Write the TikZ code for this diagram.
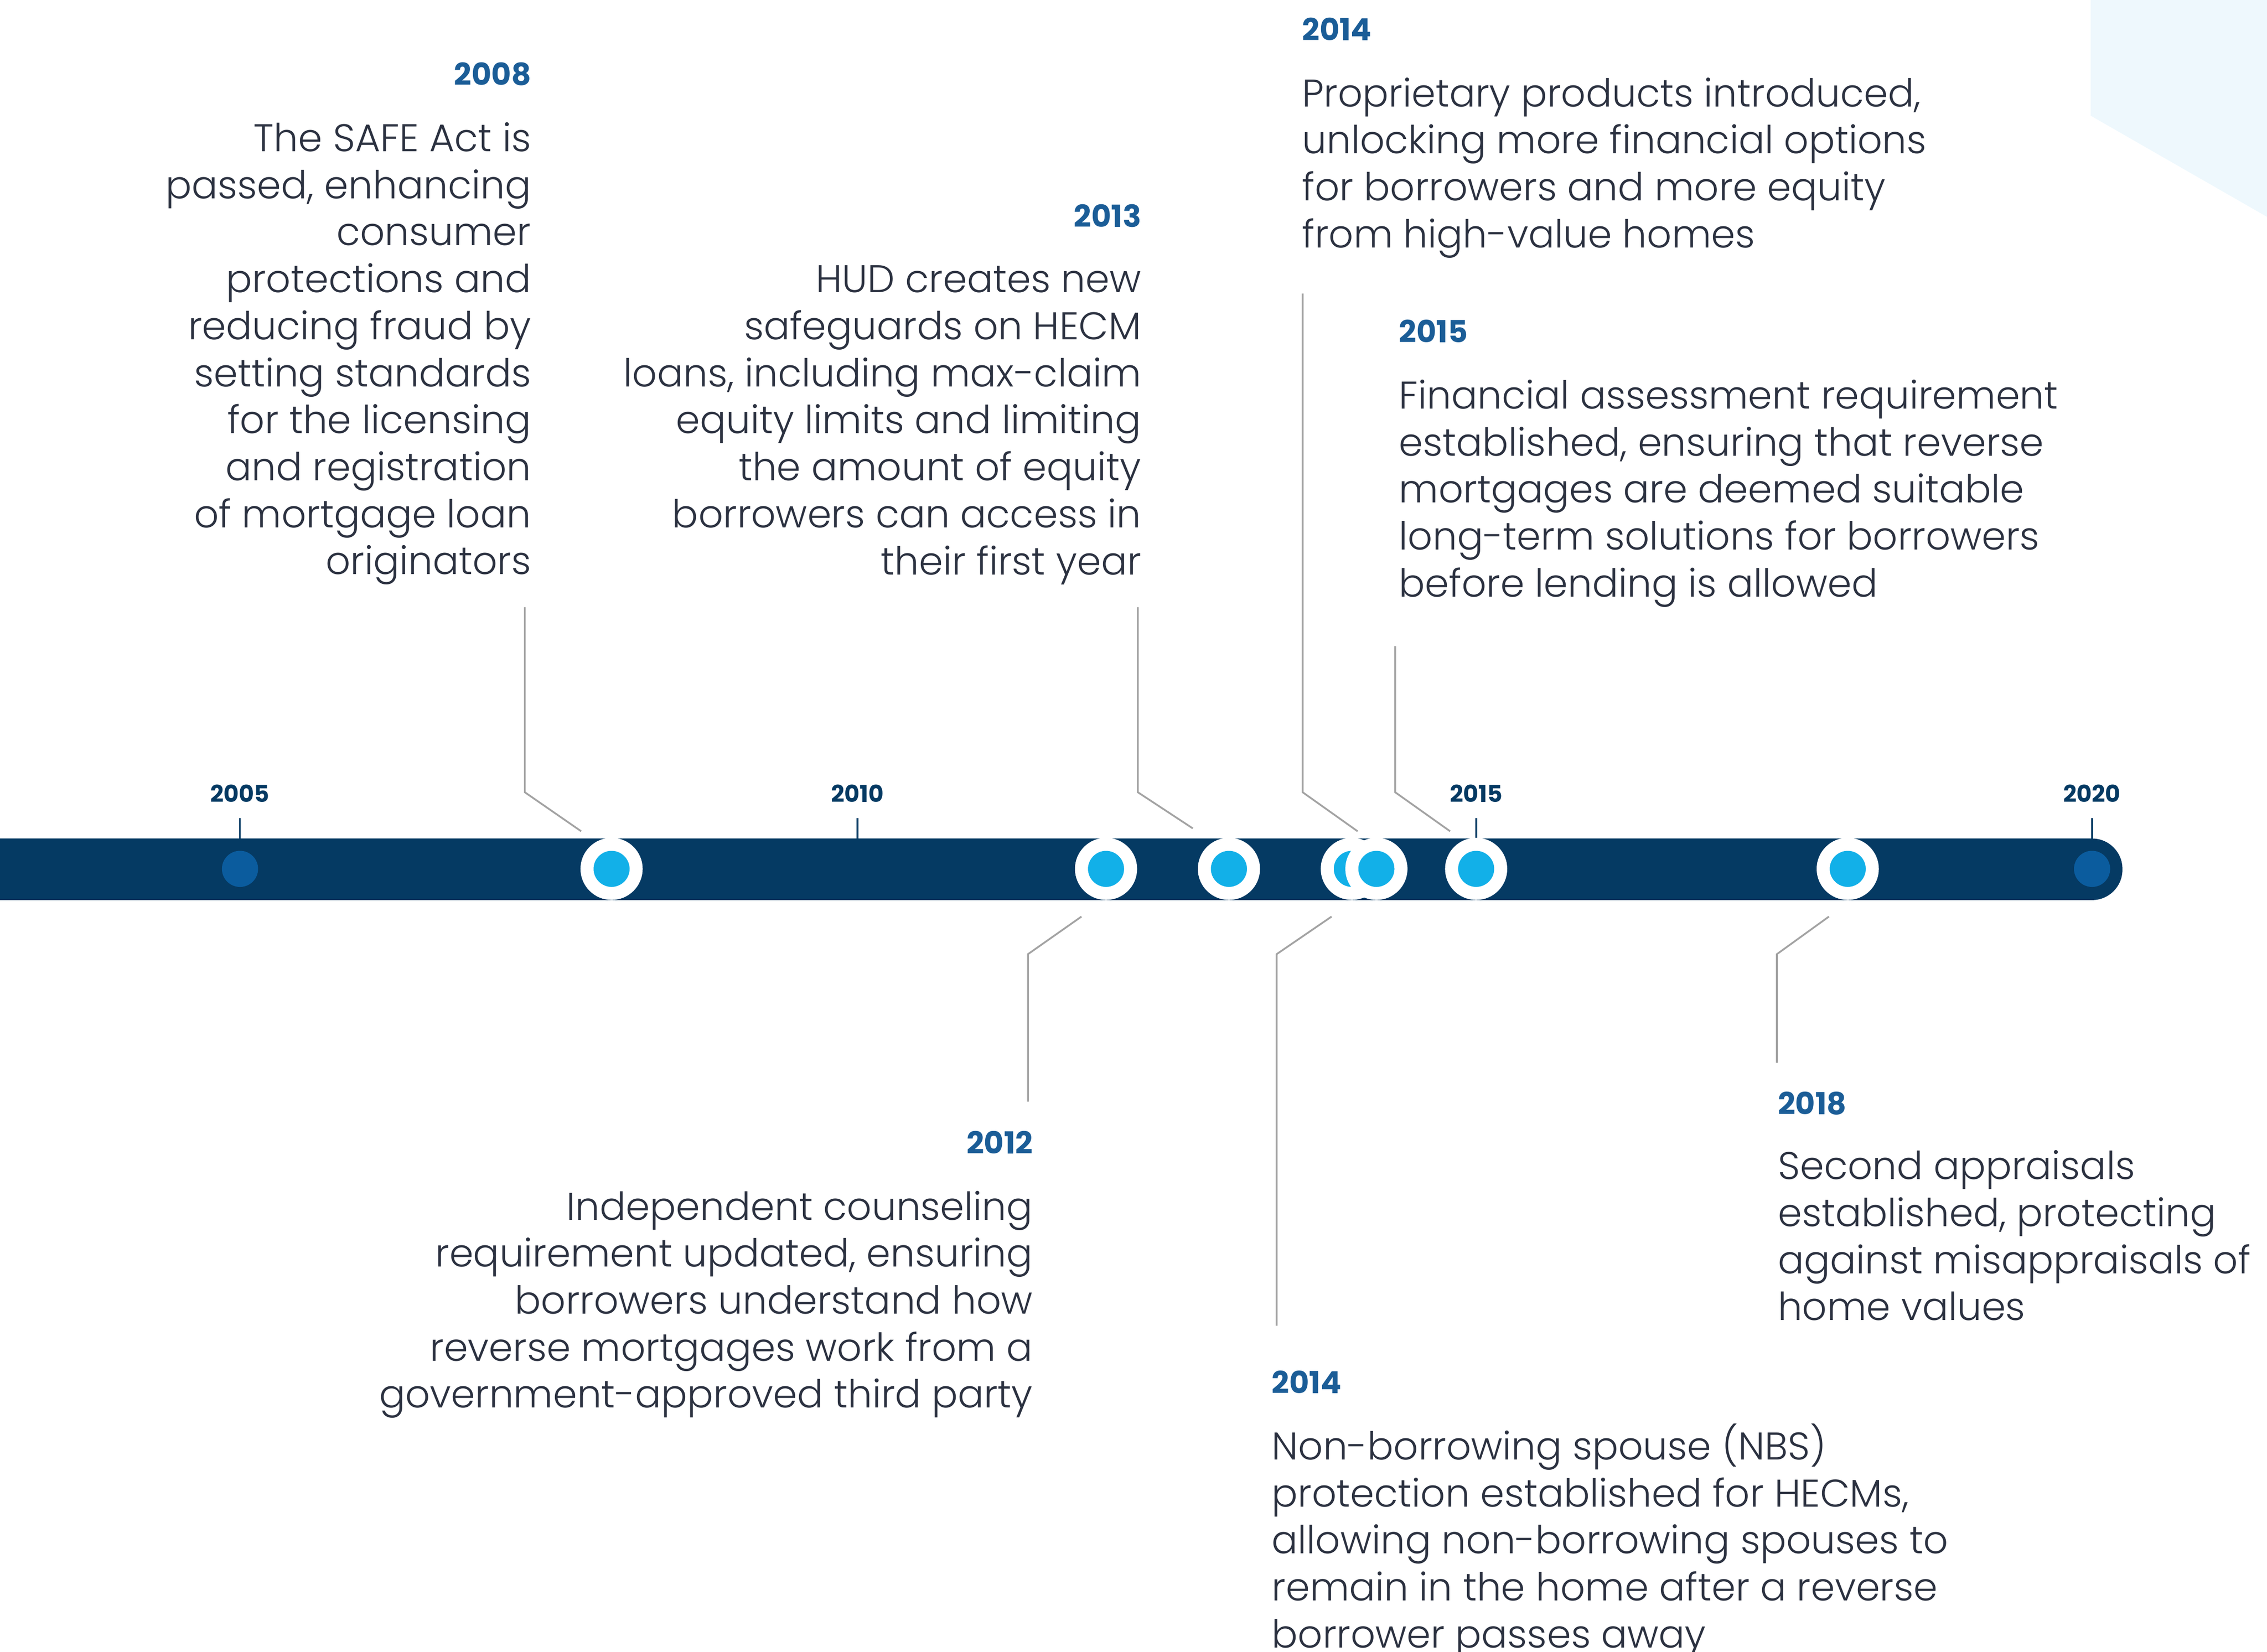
\documentclass[tikz,border=0pt]{standalone}
\usepackage{fontspec}
\setmainfont{Poppins}[UprightFont=* Light, BoldFont=* Bold]
\usepackage{tikz}
\usetikzlibrary{calc}
\definecolor{barnavy}{HTML}{053A63}
\definecolor{dotcyan}{HTML}{12B0E8}
\definecolor{endblue}{HTML}{0B5C9E}
\definecolor{yearblue}{HTML}{1B5D97}
\definecolor{bodyink}{HTML}{2B3140}
\definecolor{leadgray}{HTML}{A3A3A3}
\definecolor{paleblue}{HTML}{EEF8FD}
\tikzset{
  yearlbl/.style={font=\fontsize{6}{7}\selectfont\bfseries, text=yearblue, inner sep=0pt},
  desc/.style={font=\fontsize{7.6}{9.25}\selectfont, text=bodyink, inner sep=0pt},
  ticklbl/.style={font=\fontsize{4.6}{5}\selectfont\bfseries, text=barnavy, inner sep=0pt, anchor=base},
  tickmark/.style={draw=barnavy, line width=0.35pt},
  leader/.style={draw=leadgray, line width=0.35pt},
  event/.style={circle, fill=dotcyan, draw=white, line width=0.9mm, minimum size=3.4mm, inner sep=0pt},
  enddot/.style={circle, fill=endblue, minimum size=2.5mm, inner sep=0pt},
}

\begin{document}
\begin{tikzpicture}[x=0.1mm, y=-0.1mm]
    \useasboundingbox (0,0) rectangle (1568,1142.7);
    \fill[paleblue] (1446,0) -- (1568,0) -- (1568,150) -- (1446,80) -- cycle;

    % the bar
    \fill[barnavy] (0,580) [rounded corners=2.1mm] -- (1468,580) -- (1468,622.6) [sharp corners] -- (0,622.6) -- cycle;

    % year ticks
    \draw[tickmark] (166,566) -- (166,583);
    \draw[tickmark] (593,566) -- (593,583);
    \draw[tickmark] (1021,566) -- (1021,583);
    \draw[tickmark] (1447,566) -- (1447,583);
    \node[ticklbl] (y2005) at (166,555) {2005};
    \node[ticklbl] (y2010) at (593,555) {2010};
    \node[ticklbl] (y2015) at (1021,555) {2015};
    \node[ticklbl] (y2020) at (1447,555) {2020};

    % dots
    \node[enddot] (d2005) at (166,601) {};
    \node[enddot] (d2020) at (1447,601) {};
    \node[event] (d2008) at (423,601) {};
    \node[event] (d2012) at (765,601) {};
    \node[event] (d2013) at (850,601) {};
    \node[event] (d2014a) at (935,601) {};
    \node[event] (d2014b) at (952,601) {};
    \node[event] (d2015) at (1021,601) {};
    \node[event] (d2018) at (1278,601) {};

    % texts above
    \node[yearlbl, anchor=base east] (h2008) at (368,59) {2008};
    \node[desc, anchor=north east, align=right] (t2008) at (368,84) {The SAFE Act is\\passed, enhancing\\consumer\\protections and\\reducing fraud by\\setting standards\\for the licensing\\and registration\\of mortgage loan\\originators};

    \node[yearlbl, anchor=base east] (h2013) at (790,157) {2013};
    \node[desc, anchor=north east, align=right] (t2013) at (790,183) {HUD creates new\\safeguards on HECM\\loans, including max-claim\\equity limits and limiting\\the amount of equity\\borrowers can access in\\their first year};

    \node[yearlbl, anchor=base west] (h2014a) at (900,28) {2014};
    \node[desc, anchor=north west, align=left] (t2014a) at (900,53) {Proprietary products introduced,\\unlocking more financial options\\for borrowers and more equity\\from high-value homes};

    \node[yearlbl, anchor=base west] (h2015) at (967,237) {2015};
    \node[desc, anchor=north west, align=left] (t2015) at (967,262) {Financial assessment requirement\\established, ensuring that reverse\\mortgages are deemed suitable\\long-term solutions for borrowers\\before lending is allowed};

    % texts below
    \node[yearlbl, anchor=base east] (h2012) at (715,798) {2012};
    \node[desc, anchor=north east, align=right] (t2012) at (715,823) {Independent counseling\\requirement updated, ensuring\\borrowers understand how\\reverse mortgages work from a\\government-approved third party};

    \node[yearlbl, anchor=base west] (h2014b) at (879,964) {2014};
    \node[desc, anchor=north west, align=left] (t2014b) at (879,984) {Non-borrowing spouse (NBS)\\protection established for HECMs,\\allowing non-borrowing spouses to\\remain in the home after a reverse\\borrower passes away};

    \node[yearlbl, anchor=base west] (h2018) at (1229,771) {2018};
    \node[desc, anchor=north west, align=left] (t2018) at (1229,795) {Second appraisals\\established, protecting\\against misappraisals of\\home values};

    % leaders
    \coordinate (l2008) at (363,420);
    \coordinate (l2013) at (787,420);
    \coordinate (l2014a) at (901,203);
    \coordinate (l2015) at (965,447);
    \coordinate (l2012) at (711,762);
    \coordinate (l2014b) at (883,917);
    \coordinate (l2018) at (1229,735);
    \draw[leader] (l2008) -- (363,548) -- ($(d2008)+(-21,-26)$);
    \draw[leader] (l2013) -- (787,548) -- ($(d2013)+(-25,-28)$);
    \draw[leader] (l2014a) -- (901,548) -- ($(d2014a)+(4,-26)$);
    \draw[leader] (l2015) -- (965,548) -- ($(d2015)+(-18,-26)$);
    \draw[leader] (l2012) -- (711,660) -- ($(d2012)+(-17,33)$);
    \draw[leader] (l2014b) -- (883,660) -- ($(d2014b)+(-31,33)$);
    \draw[leader] (l2018) -- (1229,660) -- ($(d2018)+(-13,33)$);
\end{tikzpicture}
\end{document}
